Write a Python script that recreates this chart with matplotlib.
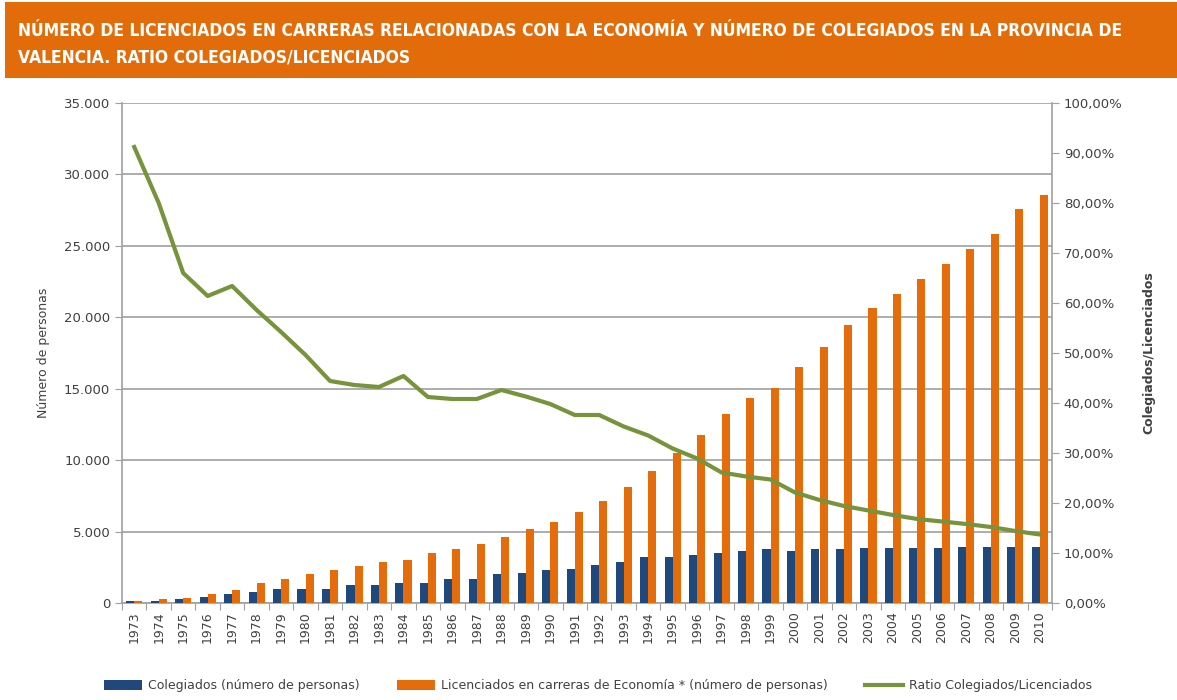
import numpy as np
import matplotlib
matplotlib.use("Agg")
import matplotlib.pyplot as plt
from matplotlib.patches import Rectangle
from matplotlib.ticker import FuncFormatter

years = list(range(1973, 2011))

colegiados = [150, 150, 300, 400, 600, 800, 950, 1000, 1000, 1250,
              1250, 1400, 1400, 1650, 1700, 2000, 2100, 2300, 2380, 2650,
              2870, 3200, 3250, 3350, 3500, 3640, 3780, 3640, 3780, 3780,
              3850, 3850, 3850, 3850, 3920, 3920, 3920, 3920]

licenciados = [150, 300, 380, 600, 890, 1380, 1700, 2050, 2290, 2570,
               2870, 3030, 3480, 3780, 4150, 4640, 5160, 5690, 6370, 7140,
               8120, 9260, 10480, 11780, 13230, 14370, 15050, 16540, 17940, 19460,
               20670, 21630, 22650, 23720, 24750, 25840, 27550, 28550]

ratio = [91.2, 80.0, 66.0, 61.4, 63.4, 58.6, 54.2, 49.6, 44.4, 43.6,
         43.2, 45.4, 41.2, 40.8, 40.8, 42.6, 41.3, 39.8, 37.6, 37.6,
         35.3, 33.5, 30.9, 28.9, 26.1, 25.3, 24.7, 22.1, 20.6, 19.4,
         18.5, 17.6, 16.8, 16.3, 15.8, 15.2, 14.4, 13.7]

titulo = ("NÚMERO DE LICENCIADOS EN CARRERAS RELACIONADAS CON LA ECONOMÍA Y NÚMERO DE COLEGIADOS EN LA PROVINCIA DE\n"
          "VALENCIA. RATIO COLEGIADOS/LICENCIADOS")

azul = "#1F497D"
naranja = "#E46C0A"
verde = "#77933C"
gris = "#A0A0A0"
texto = "#404040"

fig = plt.figure(figsize=(11.77, 7.0), dpi=100)

# banner del titulo
fig.patches.append(Rectangle((5 / 1177, 1 - 78 / 700), 1 - 5 / 1177, 76 / 700,
                             transform=fig.transFigure, facecolor="#E36C0A",
                             edgecolor="none", zorder=0))
fig.text(18 / 1177, 1 - 44 / 700, titulo, color="white", fontsize=12.5,
         fontweight="bold", va="center", ha="left", linespacing=1.6,
         fontstretch="condensed")

ax = fig.add_axes([122 / 1177, 97 / 700, 930 / 1177, 500 / 700])
x = np.arange(len(years))
w = 0.33
ax.bar(x - w / 2, colegiados, w, color=azul, zorder=3, label="Colegiados (número de personas)")
ax.bar(x + w / 2, licenciados, w, color=naranja, zorder=3,
       label="Licenciados en carreras de Economía * (número de personas)")

ax.set_xlim(-0.5, len(years) - 0.5)
ax.set_ylim(0, 35000)
ax.set_yticks(range(0, 35001, 5000))
ax.yaxis.set_major_formatter(FuncFormatter(lambda v, p: "{:,.0f}".format(v).replace(",", ".")))
ax.grid(axis="y", color=gris, linewidth=1.2, zorder=0)
ax.set_xticks(np.arange(-0.5, len(years), 1))
ax.set_xticklabels([])
ax.set_xticks(x, minor=True)
ax.set_xticklabels([str(y) for y in years], minor=True, rotation=90, fontsize=9, color=texto)
ax.tick_params(axis="x", which="minor", length=0, pad=6)
ax.tick_params(axis="x", which="major", length=5, color=gris)
ax.tick_params(axis="y", length=5, color=gris, labelsize=9.5, labelcolor=texto)
for s in ["top", "right"]:
    ax.spines[s].set_visible(False)
for s in ["left", "bottom"]:
    ax.spines[s].set_color(gris)
    ax.spines[s].set_linewidth(1.2)
ax.set_ylabel("Número de personas", fontsize=9, color=texto, labelpad=10)

ax2 = ax.twinx()
ax2.plot(x, ratio, color=verde, linewidth=3, zorder=4, label="Ratio Colegiados/Licenciados")
ax2.set_ylim(0, 100)
ax2.set_yticks(range(0, 101, 10))
ax2.yaxis.set_major_formatter(FuncFormatter(lambda v, p: "{:.2f}%".format(v).replace(".", ",")))
ax2.tick_params(axis="y", length=5, color=gris, labelsize=9.5, labelcolor=texto)
for s in ["top", "left", "bottom"]:
    ax2.spines[s].set_visible(False)
ax2.spines["right"].set_color(gris)
ax2.spines["right"].set_linewidth(1.2)
ax2.set_ylabel("Colegiados/Licenciados", fontsize=9, color=texto, labelpad=14, fontweight="bold")

h1, l1 = ax.get_legend_handles_labels()
h2, l2 = ax2.get_legend_handles_labels()
fig.legend(h1 + h2, l1 + l2, loc="center", bbox_to_anchor=(598 / 1177, 1 - 686 / 700), ncol=3,
           frameon=False, fontsize=9, handlelength=3.0, handleheight=0.9,
           handletextpad=0.5, columnspacing=3.0, labelcolor=texto)

fig.savefig("out.png", dpi=100)
plt.close()
